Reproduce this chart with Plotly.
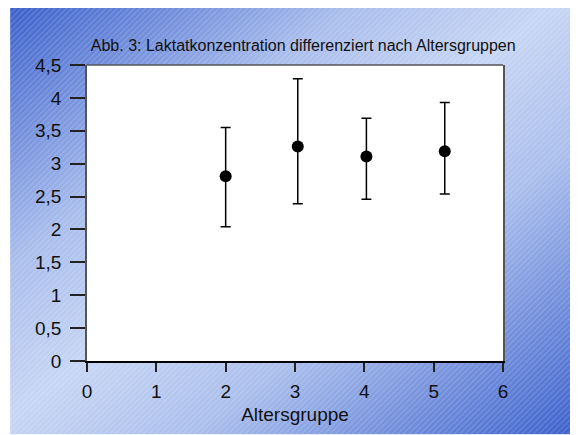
import base64
import plotly.graph_objects as go

# ---- data ----
groups = [2.0, 3.04, 4.03, 5.16]
means = [2.81, 3.26, 3.11, 3.19]
upper = [3.55, 4.29, 3.69, 3.93]
lower = [2.04, 2.39, 2.46, 2.54]

x_tickvals = [0, 1, 2, 3, 4, 5, 6]
x_ticktext = ["0", "1", "2", "3", "4", "5", "6"]
y_tickvals = [0, 0.5, 1, 1.5, 2, 2.5, 3, 3.5, 4, 4.5]
y_ticktext = ["0", "0,5", "1", "1,5", "2", "2,5", "3", "3,5", "4", "4,5"]

title_text = "Abb. 3: Laktatkonzentration differenziert nach Altersgruppen"
x_title = "Altersgruppe"

err_plus = [u - m for u, m in zip(upper, means)]
err_minus = [m - l for m, l in zip(means, lower)]

# ---- layout geometry (pixels, page coords; the page body adds an 8px offset) ----
OFF = 8
W, H = 578 - OFF, 435 - OFF
PL, PR, PT, PB = 87, 503.5, 65, 361.5   # plot area in page coords
L, T = PL - OFF, PT - OFF
R, B = W - (PR - OFF), H - (PB - OFF)
pw, ph = W - L - R, H - T - B

# background gradient with fine diagonal stripes (SVG data URI)
bg_x0, bg_y0 = 10, 7
bg_w, bg_h = 578 - bg_x0, 435 - bg_y0
svg = f'''<svg xmlns="http://www.w3.org/2000/svg" width="{bg_w}" height="{bg_h}" viewBox="0 0 {bg_w} {bg_h}" preserveAspectRatio="none">
<defs>
<linearGradient id="g" x1="0" y1="0" x2="1" y2="1">
<stop offset="0" stop-color="#3a5fcb"/>
<stop offset="0.30" stop-color="#a9bdec"/>
<stop offset="0.48" stop-color="#c6d5f4"/>
<stop offset="0.66" stop-color="#aabeec"/>
<stop offset="1" stop-color="#3a5fcb"/>
</linearGradient>
<pattern id="p" patternUnits="userSpaceOnUse" width="4" height="4" patternTransform="rotate(45)">
<rect x="0" y="0" width="1.4" height="4" fill="#ffffff" fill-opacity="0.16"/>
</pattern>
</defs>
<rect x="0" y="0" width="{bg_w}" height="{bg_h}" fill="url(#g)"/>
<rect x="0" y="0" width="{bg_w}" height="{bg_h}" fill="url(#p)"/>
</svg>'''
src = "data:image/svg+xml;base64," + base64.b64encode(svg.encode()).decode()

def px_x(p):
    return (p - PL) / pw

def px_y(p):
    return 1 - (p - PT) / ph

fig = go.Figure()
fig.add_trace(go.Scatter(
    x=groups, y=means, mode="markers",
    marker=dict(color="black", size=12),
    error_y=dict(type="data", symmetric=False, array=err_plus, arrayminus=err_minus,
                 color="black", thickness=1.5, width=5),
    showlegend=False, hoverinfo="skip",
))

fig.add_layout_image(dict(
    source=src, xref="paper", yref="paper",
    x=px_x(bg_x0), y=px_y(bg_y0), sizex=bg_w / pw, sizey=bg_h / ph,
    xanchor="left", yanchor="top", sizing="stretch", layer="below",
))

# white plot area and top border of frame
fig.add_shape(type="rect", xref="paper", yref="paper", x0=0, x1=1, y0=0, y1=1,
              fillcolor="white", line=dict(width=0), layer="below")
fig.add_shape(type="line", xref="paper", yref="paper", x0=0, x1=1, y0=1, y1=1,
              line=dict(color="#555555", width=1.5))

fig.update_layout(
    width=W, height=H,
    margin=dict(l=L, r=R, t=T, b=B, pad=0),
    paper_bgcolor="white", plot_bgcolor="white",
    font=dict(family="Liberation Sans, Arial, sans-serif", color="#111111"),
    title=dict(text=title_text, font=dict(size=16, color="#111111"),
               x=px_x(303.5), xref="paper", xanchor="center",
               y=1 - (45 - OFF) / H, yref="container", yanchor="middle"),
    xaxis=dict(range=[0, 6], tickvals=x_tickvals, ticktext=x_ticktext,
               showgrid=False, zeroline=False,
               showline=True, linecolor="black", linewidth=2, mirror=False,
               ticks="outside", ticklen=9, tickwidth=1.5, tickcolor="#222222",
               ticklabelstandoff=3,
               tickfont=dict(size=19, color="#111111"),
               title=dict(text=x_title, font=dict(size=19, color="#111111"), standoff=7)),
    yaxis=dict(range=[0, 4.5], tickvals=y_tickvals, ticktext=y_ticktext,
               showgrid=False, zeroline=False,
               showline=True, linecolor="#555555", linewidth=1.5, mirror=True,
               ticks="outside", ticklen=15, tickwidth=1.5, tickcolor="#222222",
               ticklabelstandoff=5,
               tickfont=dict(size=19, color="#111111")),
)

fig.write_html("out.html")
